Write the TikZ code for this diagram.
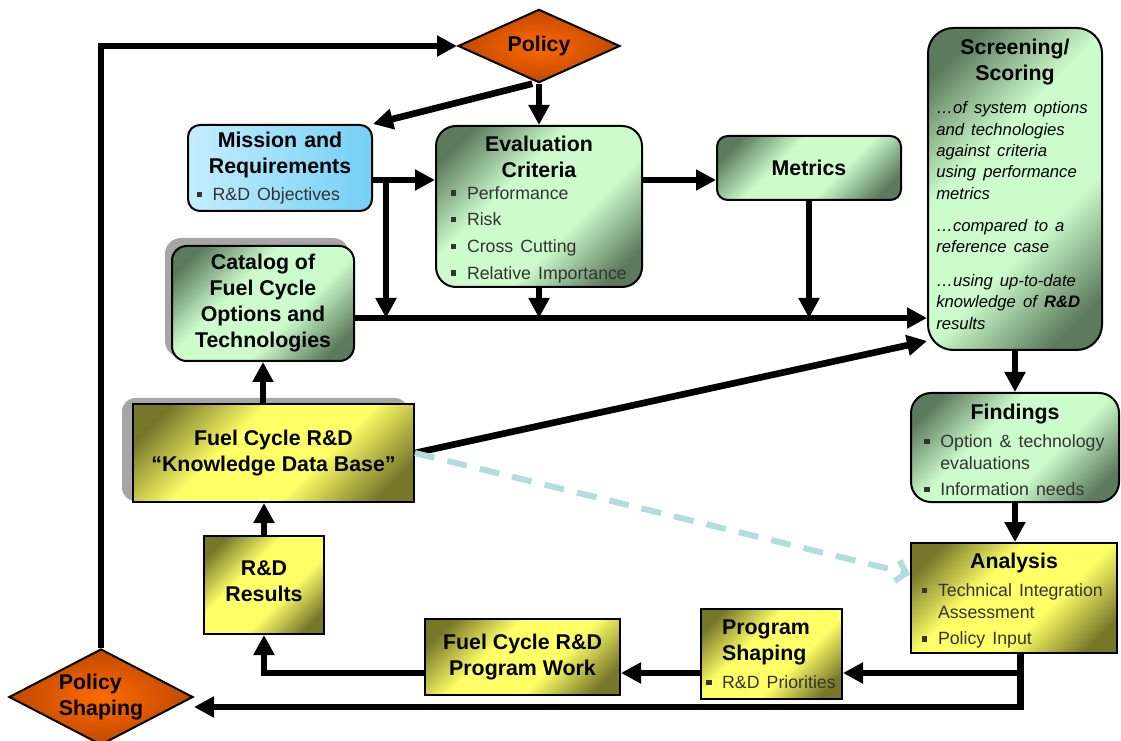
\documentclass[tikz,border=0pt]{standalone}
\usepackage{fontspec}
\setmainfont{Liberation Sans}
\usetikzlibrary{shapes.geometric,arrows.meta,backgrounds,calc}

\definecolor{gdark}{HTML}{5C7A5C}
\definecolor{glight}{HTML}{CCFCCC}
\definecolor{ydark}{HTML}{77772A}
\definecolor{ylight}{HTML}{FFFF66}
\definecolor{bdark}{HTML}{74D0F5}
\definecolor{blight}{HTML}{C4EEFD}
\definecolor{odark}{HTML}{C04800}
\definecolor{olight}{HTML}{FF6A00}
\definecolor{txtgray}{HTML}{333333}
\definecolor{dashblue}{HTML}{B2DCE0}
\definecolor{shadowgray}{HTML}{A6A6A6}

\pgfdeclareverticalshading{greenfill}{100bp}{color(0bp)=(gdark); color(22bp)=(gdark); color(40bp)=(glight); color(60bp)=(glight); color(78bp)=(gdark); color(100bp)=(gdark)}
\pgfdeclareverticalshading{yellowfill}{100bp}{color(0bp)=(ydark); color(22bp)=(ydark); color(40bp)=(ylight); color(60bp)=(ylight); color(78bp)=(ydark); color(100bp)=(ydark)}

\newcommand{\ttl}{\fontsize{16}{19.5}\selectfont\bfseries}
\newcommand{\txt}{\fontsize{13.3}{16.5}\selectfont\mdseries\color{txtgray}}
\newcommand{\itx}{\fontsize{12.5}{16}\selectfont\mdseries\itshape}
\newcommand{\bul}{\makebox[12pt][l]{\rule[2.5pt]{4pt}{4pt}}}
\newcommand{\bulgap}{\hspace*{12pt}}
\newcommand{\lift}[1]{\par\vspace{#1}\hrule height 0pt}
\newcommand{\sink}[1]{\hrule height 0pt\vspace{#1}}

\begin{document}
\begin{tikzpicture}[x=0.75pt, y=-0.75pt]
    \tikzstyle{gbox} = [draw, line width=1.5pt, shade, shading=greenfill, shading angle=45, inner sep=0pt, font=\ttl]
    \tikzstyle{ybox} = [draw, line width=1.5pt, shade, shading=yellowfill, shading angle=45, inner sep=0pt, font=\ttl]
    \tikzstyle{bbox} = [draw, line width=1.5pt, left color=blight, right color=bdark, inner sep=0pt, font=\ttl]
    \tikzstyle{odiam} = [diamond, draw, line width=1.5pt, inner color=olight, outer color=odark, inner sep=0pt, font=\ttl]
    \tikzstyle{arr} = [line width=5pt, -{Triangle[length=15pt,width=15pt]}]
    \tikzstyle{hint} = [line width=4.5pt, dashblue, dash pattern=on 15pt off 10pt, -{Straight Barb[length=7pt,width=16pt]}]

    \useasboundingbox (0,0) rectangle (1121,741);

    \node[odiam, aspect=2.2, minimum width=121.5pt, minimum height=55pt] (pol) at (539,46) {Policy};
    \node[odiam, aspect=1.9, minimum width=138pt, minimum height=72pt, align=left] (ps) at (101,697) {Policy\\Shaping};

    \node[bbox, rounded corners=9pt, minimum width=138pt, minimum height=64.5pt, text width=125pt] (mis) at (280,168)
        {{\centering Mission and\\Requirements\par}\vspace{3.5pt}{\raggedright\txt\bul R\&D Objectives\par}};
    \node[gbox, rounded corners=15pt, minimum width=154.5pt, minimum height=120.75pt, text width=132pt] (eval) at (539,206.5)
        {\sink{4pt}{\centering Evaluation\\Criteria\par}{\raggedright\txt\bul Performance\\[3.5pt]\bul Risk\\[3.5pt]\bul Cross Cutting\\[3.5pt]\bul Relative Importance\par}};
    \node[gbox, rounded corners=8pt, minimum width=138pt, minimum height=48pt] (met) at (809,168) {Metrics};
    \node[gbox, rounded corners=19pt, minimum width=130.5pt, minimum height=241.5pt, text width=118pt] (scr) at (1015,189)
        {{\centering Screening/\\Scoring\par}\vspace{9pt}%
         {\raggedright\itx …of system options\\and technologies\\against criteria\\using performance\\metrics\par}\vspace{8pt}%
         {\raggedright\itx …compared to a\\reference case\par}\vspace{9.5pt}%
         {\raggedright\itx …using up-to-date\\knowledge of \textbf{R\&D}\\results\par}\lift{7pt}};
    \node[gbox, rounded corners=11pt, minimum width=136.5pt, minimum height=86.25pt, align=center] (cat) at (263,303.5)
        {Catalog of\\Fuel Cycle\\Options and\\Technologies};

    \node[ybox, minimum width=210.75pt, minimum height=73.5pt, align=center] (kdb) at (273.5,453) {Fuel Cycle R\&D\\“Knowledge Data Base”};
    \node[ybox, minimum width=90pt, minimum height=73.5pt, text width=88pt] (res) at (264,585)
        {{\centering R\&D\\Results\par}\lift{6pt}};
    \node[ybox, minimum width=146.25pt, minimum height=57pt, align=center] (work) at (522.5,657) {Fuel Cycle R\&D\\Program Work};
    \node[ybox, minimum width=105.75pt, minimum height=67.5pt, text width=98pt] (sh) at (771.5,654)
        {{\raggedright\bulgap Program\\\bulgap Shaping\par}\vspace{4.5pt}{\raggedright\txt\bul R\&D Priorities\par}};
    \node[gbox, rounded corners=15pt, minimum width=156pt, minimum height=81.75pt, text width=136pt] (fin) at (1015,447.5)
        {\sink{4pt}{\centering Findings\par}\vspace{4.5pt}{\raggedright\txt\bul Option \& technology\\\bulgap evaluations\\[3pt]\bul Information needs\par}};
    \node[ybox, minimum width=154.5pt, minimum height=82.5pt, text width=138pt] (an) at (1014,598)
        {\sink{4pt}{\centering Analysis\par}\vspace{4.5pt}{\raggedright\txt\bul Technical Integration\\\bulgap Assessment\\[3.5pt]\bul Policy Input\par}};

    \begin{scope}[on background layer]
        \fill[shadowgray, rounded corners=12pt] ($(cat.north west)+(-6,-7)$) rectangle ($(cat.south east)+(-6,-5)$);
        \fill[shadowgray, rounded corners=10pt] ($(kdb.north west)+(-10,-5)$) rectangle ($(kdb.south east)+(-7,-2)$);
    \end{scope}

    \coordinate (row1) at (0,180);
    \coordinate (row2) at (0,318);
    \coordinate (row3) at (0,673);
    \coordinate (row4) at (0,707);
    \coordinate (split) at (386,180);

    \draw[arr] (ps.north) |- (pol.west);
    \draw[arr] (pol.south) -- (eval.north);
    \draw[arr] ([xshift=-5pt]pol.south) -- (mis.north east);
    \draw[arr] (mis.east |- row1) -- (eval.west |- row1);
    \draw[arr] (split) -- (split |- row2);
    \draw[arr] (cat.east |- row2) -- (scr.west |- row2);
    \draw[arr] (eval.south) -- (eval.south |- row2);
    \draw[arr] (eval.east |- row1) -- (met.west |- row1);
    \draw[arr] (met.south) -- (met.south |- row2);
    \draw[arr] (kdb.east) -- ([yshift=7.5pt]scr.south west);

    \draw[arr] (scr.south) -- (fin.north);
    \draw[arr] (fin.south) -- (fin.south |- an.north);
    \draw[arr] ([xshift=5pt]an.south) |- (sh.east |- row3);
    \draw[arr] ([xshift=5pt]an.south) |- (ps.east |- row4);
    \draw[arr] (sh.west |- row3) -- (work.east |- row3);
    \draw[arr] (work.west |- row3) -| (res.south);
    \draw[arr] (res.north) -- (res.north |- kdb.south);
    \draw[arr] (cat.south |- kdb.north) -- (cat.south);

    \draw[hint] (kdb.east) -- ([yshift=18pt]an.west);
\end{tikzpicture}
\end{document}
